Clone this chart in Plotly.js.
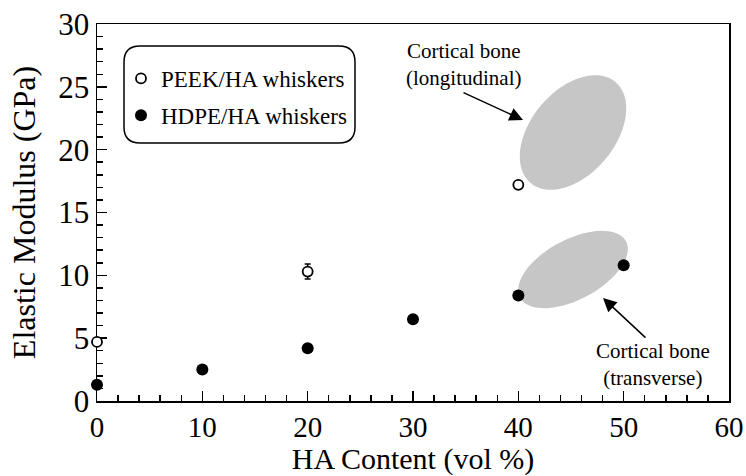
<!DOCTYPE html>
<html>
<head>
<meta charset="utf-8">
<script src="https://cdn.plot.ly/plotly-3.0.1.min.js"></script>
<style>html,body{margin:0;padding:0;background:#fff;}#chart{width:746px;height:476px;}</style>
</head>
<body>
<div id="chart"></div>
<script>
// ---- data ----
var peekX = [0, 20, 40];
var peekY = [4.7, 10.3, 17.2];
var peekErrX = [20];
var peekErrY = [10.3];
var peekErr = [0.6];
var hdpeX = [0, 10, 20, 30, 40, 50];
var hdpeY = [1.3, 2.5, 4.2, 6.5, 8.4, 10.8];
var seriesNames = ["PEEK/HA whiskers", "HDPE/HA whiskers"];
var xTicks = [0, 10, 20, 30, 40, 50, 60];
var yTicks = [0, 5, 10, 15, 20, 25, 30];

// ---- geometry helpers (plot area 97..729 x 24..401 px) ----
var L = 97, R = 729, T = 24, B = 401;
var xs = (R - L) / 60, ys = (B - T) / 30;
function px2x(p){ return (p - L) / xs; }
function py2y(p){ return (B - p) / ys; }

function ellipsePath(cx, cy, a, b, deg){
  var th = deg * Math.PI / 180, s = '';
  for (var i = 0; i <= 72; i++){
    var t = i / 72 * 2 * Math.PI;
    var dx = a * Math.cos(t) * Math.cos(th) - b * Math.sin(t) * Math.sin(th);
    var dy = a * Math.cos(t) * Math.sin(th) + b * Math.sin(t) * Math.cos(th);
    s += (i ? 'L' : 'M') + (cx + dx / xs).toFixed(3) + ',' + (cy + dy / ys).toFixed(3);
  }
  return s + 'Z';
}
function roundRect(x0, y0, x1, y1, r){
  var P = function(px, py){ return px2x(px).toFixed(3) + ',' + py2y(py).toFixed(3); };
  return 'M' + P(x0 + r, y0) + 'L' + P(x1 - r, y0) + 'Q' + P(x1, y0) + ' ' + P(x1, y0 + r) +
         'L' + P(x1, y1 - r) + 'Q' + P(x1, y1) + ' ' + P(x1 - r, y1) +
         'L' + P(x0 + r, y1) + 'Q' + P(x0, y1) + ' ' + P(x0, y1 - r) +
         'L' + P(x0, y0 + r) + 'Q' + P(x0, y0) + ' ' + P(x0 + r, y0) + 'Z';
}

var FONT = "Liberation Serif";

var traces = [
  {
    x: peekErrX, y: peekErrY, type: 'scatter', mode: 'markers', showlegend: false, hoverinfo: 'skip',
    error_y: {type: 'data', array: peekErr, visible: true, color: '#000', thickness: 1.5, width: 3},
    marker: {size: 1, color: 'rgba(0,0,0,0)'}, cliponaxis: false
  },
  {
    x: peekX, y: peekY, name: seriesNames[0], type: 'scatter', mode: 'markers',
    marker: {symbol: 'circle', size: 10, color: '#fff', line: {width: 1.8, color: '#000'}},
    cliponaxis: false, legendgroup: 'a'
  },
  {
    x: hdpeX, y: hdpeY, name: seriesNames[1], type: 'scatter', mode: 'markers',
    marker: {symbol: 'circle', size: 12, color: '#000'},
    cliponaxis: false, legendgroup: 'b'
  }
];

var grey = 'rgb(198,198,198)';
var layout = {
  width: 746, height: 476,
  margin: {l: L, r: 746 - R, t: T, b: 476 - B},
  paper_bgcolor: '#fff', plot_bgcolor: '#fff',
  font: {family: FONT, color: '#000'},
  showlegend: true,
  legend: {
    x: (121 - L) / (R - L), y: (B - 57) / (B - T), xanchor: 'left', yanchor: 'top',
    bgcolor: 'rgba(0,0,0,0)', borderwidth: 0,
    font: {family: FONT, size: 23, color: '#000'},
    tracegroupgap: 4, traceorder: 'grouped', itemwidth: 30
  },
  xaxis: {
    range: [0, 60], tickvals: xTicks, ticks: 'inside', ticklen: 10, tickwidth: 1.5, tickcolor: '#000',
    minor: {dtick: 2, tick0: 0, ticks: 'inside', ticklen: 6, tickwidth: 1.5, tickcolor: '#000'},
    showline: true, linecolor: '#000', linewidth: 1.5, mirror: true, layer: 'below traces',
    showgrid: false, zeroline: false,
    tickfont: {family: FONT, size: 29, color: '#000'},
    title: {text: 'HA Content (vol %)', font: {family: FONT, size: 30, color: '#000'}, standoff: 5}
  },
  yaxis: {
    range: [0, 30], tickvals: yTicks, ticks: 'inside', ticklen: 10, tickwidth: 1.5, tickcolor: '#000',
    minor: {dtick: 1, tick0: 0, ticks: 'inside', ticklen: 6, tickwidth: 1.5, tickcolor: '#000'},
    showline: true, linecolor: '#000', linewidth: 1.5, mirror: true, layer: 'below traces',
    showgrid: false, zeroline: false,
    tickfont: {family: FONT, size: 31, color: '#000'},
    title: {text: 'Elastic Modulus (GPa)', font: {family: FONT, size: 32, color: '#000'}, standoff: 13}
  },
  shapes: [
    {type: 'path', xref: 'x', yref: 'y', layer: 'below', path: ellipsePath(px2x(573), py2y(132.5), 66, 42, 50), fillcolor: grey, line: {width: 0}},
    {type: 'path', xref: 'x', yref: 'y', layer: 'below', path: ellipsePath(px2x(573), py2y(269.5), 60, 30, 28), fillcolor: grey, line: {width: 0}},
    {type: 'path', xref: 'x', yref: 'y', layer: 'above', path: roundRect(124, 46, 355, 143, 16), fillcolor: 'rgba(0,0,0,0)', line: {width: 1.5, color: '#000'}}
  ],
  annotations: [
    {xref: 'x', yref: 'y', x: px2x(463), y: py2y(64), text: 'Cortical bone<br>(longitudinal)', showarrow: false,
     font: {family: FONT, size: 21, color: '#000'}, align: 'center'},
    {xref: 'x', yref: 'y', x: px2x(653), y: py2y(364), text: 'Cortical bone<br>(transverse)', showarrow: false,
     font: {family: FONT, size: 21, color: '#000'}, align: 'center'},
    {xref: 'x', yref: 'y', axref: 'x', ayref: 'y', x: px2x(523), y: py2y(120), ax: px2x(462), ay: py2y(92),
     text: '', showarrow: true, arrowhead: 2, arrowsize: 1.8, arrowwidth: 1.5, arrowcolor: '#000', standoff: 0},
    {xref: 'x', yref: 'y', axref: 'x', ayref: 'y', x: px2x(603), y: py2y(298), ax: px2x(647), ay: py2y(339),
     text: '', showarrow: true, arrowhead: 2, arrowsize: 1.8, arrowwidth: 1.5, arrowcolor: '#000', standoff: 0}
  ]
};

Plotly.newPlot('chart', traces, layout, {displayModeBar: false, staticPlot: true});
</script>
</body>
</html>
